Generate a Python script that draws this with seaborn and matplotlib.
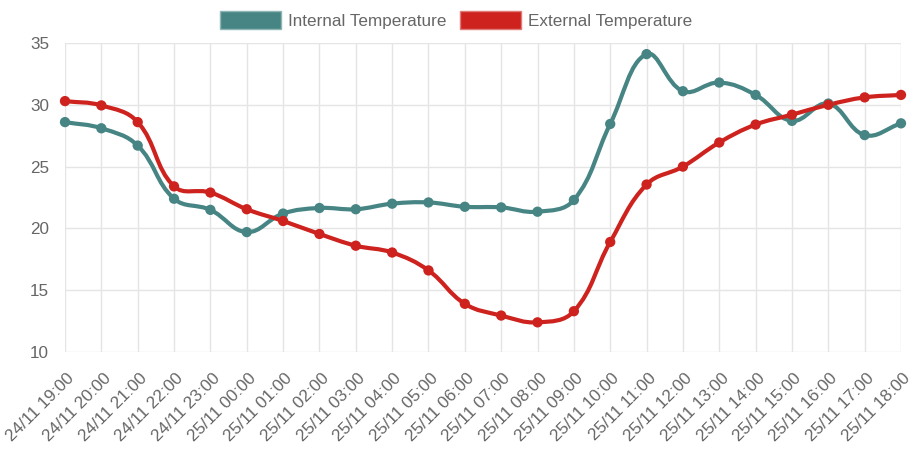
import numpy as np
import pandas as pd
import matplotlib
matplotlib.use("Agg")
import matplotlib.pyplot as plt
import matplotlib.transforms as mtransforms
import seaborn as sns
from matplotlib.path import Path
from matplotlib.patches import PathPatch, Patch

# Data
labels = ['24/11 19:00', '24/11 20:00', '24/11 21:00', '24/11 22:00', '24/11 23:00',
          '25/11 00:00', '25/11 01:00', '25/11 02:00', '25/11 03:00', '25/11 04:00',
          '25/11 05:00', '25/11 06:00', '25/11 07:00', '25/11 08:00', '25/11 09:00',
          '25/11 10:00', '25/11 11:00', '25/11 12:00', '25/11 13:00', '25/11 14:00',
          '25/11 15:00', '25/11 16:00', '25/11 17:00', '25/11 18:00']
internal = [28.6, 28.1, 26.7, 22.4, 21.5, 19.7, 21.2, 21.65, 21.55, 22.0,
            22.1, 21.75, 21.7, 21.35, 22.3, 28.45, 34.1, 31.1, 31.8, 30.8,
            28.7, 30.1, 27.55, 28.5]
external = [30.3, 29.95, 28.6, 23.4, 22.9, 21.55, 20.6, 19.55, 18.6, 18.05,
            16.6, 13.9, 12.95, 12.4, 13.3, 18.9, 23.55, 25.0, 26.95, 28.4,
            29.2, 30.0, 30.6, 30.8]

teal = '#468584'
red = '#cd221d'
grid_col = '#e5e5e5'
text_col = '#666666'

sns.set_style("white")
plt.rcParams['font.family'] = ['Liberation Sans', 'DejaVu Sans']
fs = 12.3

fig = plt.figure(figsize=(9.12, 4.49), dpi=100)
ax = fig.add_axes([65 / 912, 1 - 352 / 449, (901 - 65) / 912, (352 - 43) / 449])

df = pd.DataFrame({
    'idx': list(range(len(labels))) * 2,
    'temp': internal + external,
    'series': ['Internal Temperature'] * len(labels) + ['External Temperature'] * len(labels),
})

ax.set_xlim(0, len(labels) - 1)
ax.set_ylim(10, 35)


# smooth curve like Chart.js (tension 0.4), control points in pixel space
def smooth_path(xs, ys, t=0.4):
    pts = ax.transData.transform(np.column_stack([xs, ys]))
    n = len(pts)
    prev_c, next_c = [], []
    for i in range(n):
        p0 = pts[i - 1] if i > 0 else pts[i]
        p1 = pts[i]
        p2 = pts[i + 1] if i < n - 1 else pts[i]
        d01 = np.hypot(*(p1 - p0))
        d12 = np.hypot(*(p2 - p1))
        s01 = d01 / (d01 + d12) if d01 + d12 else 0
        s12 = d12 / (d01 + d12) if d01 + d12 else 0
        prev_c.append(p1 - t * s01 * (p2 - p0))
        next_c.append(p1 + t * s12 * (p2 - p0))
    verts = [pts[0]]
    codes = [Path.MOVETO]
    for i in range(n - 1):
        verts += [next_c[i], prev_c[i + 1], pts[i + 1]]
        codes += [Path.CURVE4] * 3
    verts = ax.transData.inverted().transform(np.array(verts))
    return Path(verts, codes)


for vals, col in [(internal, teal), (external, red)]:
    patch = PathPatch(smooth_path(np.arange(len(vals)), vals), facecolor='none',
                      edgecolor=col, lw=3.0, zorder=3, capstyle='round', joinstyle='round')
    ax.add_patch(patch)

sns.scatterplot(data=df, x='idx', y='temp', hue='series',
                palette={'Internal Temperature': teal, 'External Temperature': red},
                s=55, edgecolor='none', legend=False, zorder=4, ax=ax, clip_on=False)

# axes styling
ax.set_xticks(range(len(labels)))
ax.set_xticklabels(labels, rotation=45, ha='right', va='center', rotation_mode='anchor')
ax.set_yticks([10, 15, 20, 25, 30, 35])
ax.tick_params(axis='both', length=7.5, width=1, color=grid_col, labelcolor=text_col,
               labelsize=fs, pad=4)
ax.tick_params(axis='x', pad=6)
ax.grid(True, color=grid_col, lw=1)
for s in ax.spines.values():
    s.set_visible(False)
ax.set_xlabel('')
ax.set_ylabel('')

# shift rotated labels so their end sits just right of the tick, like the original
shift = mtransforms.ScaledTranslation(7 / 100, -5 / 100, fig.dpi_scale_trans)
for lbl in ax.get_xticklabels():
    lbl.set_transform(lbl.get_transform() + shift)

handles = [Patch(facecolor=teal, edgecolor='#8fb5b4', lw=1, label='Internal Temperature'),
           Patch(facecolor=red, edgecolor='#e07a76', lw=1, label='External Temperature')]
fig.legend(handles=handles, loc='center', bbox_to_anchor=(0.5, 1 - 20 / 449), ncol=2,
           frameon=False, fontsize=fs, handlelength=3.6, handleheight=1.3,
           handletextpad=0.4, columnspacing=0.75, borderpad=0, labelcolor=text_col)

fig.savefig('out.png', dpi=100)
